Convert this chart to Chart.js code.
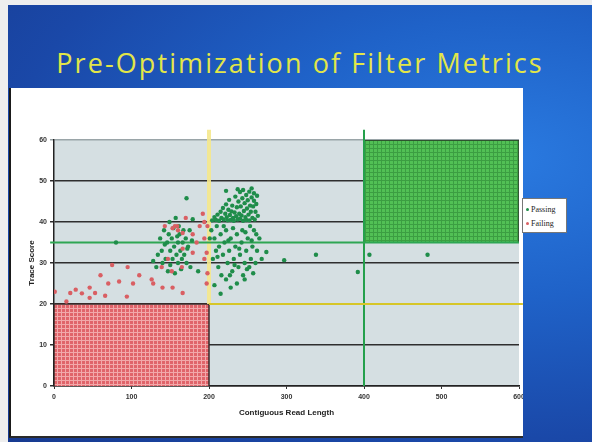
<!DOCTYPE html>
<html>
<head>
<meta charset="utf-8">
<script src="https://cdn.jsdelivr.net/npm/chart.js@4.4.0/dist/chart.umd.min.js"></script>
<style>
html, body { margin: 0; padding: 0; }
body { width: 592px; height: 442px; position: relative; overflow: hidden; background: #eeeeee; }
#slide {
    position: absolute; left: 8px; top: 5px; width: 584px; height: 437px;
    background: radial-gradient(ellipse at 85% 35%, #2a7ae0 0%, #1f62c8 35%, #1a48a8 70%, #173a90 100%);
}
#title {
    position: absolute; left: 8px; top: 44px; width: 584px; text-align: center;
    color: #e2e648; font: 27px 'Open Sans', sans-serif; white-space: nowrap; letter-spacing: 2.1px;
}
#panel {
    position: absolute; left: 9px; top: 88px; width: 514px; height: 350px; background: #ffffff;
    border-left: 2px solid #1a1a1a; border-bottom: 2px solid #2a2a2a; box-sizing: border-box;
}
#myChart { position: absolute; left: -2px; top: 0; }
#legend {
    position: absolute; left: 522px; top: 198px; width: 45px; height: 35px; box-sizing: border-box;
    background: #fff; border: 1px solid #777; font: 8px 'Liberation Serif', serif; color: #222;
    padding: 4px 0 0 3px; line-height: 14px;
}
#legend span { display: inline-block; width: 3px; height: 3px; margin: 0 2px 1px 0; border-radius: 50%; }
</style>
</head>
<body>
<div id="slide"></div>
<div id="title">Pre-Optimization of Filter Metrics</div>
<div id="panel"><canvas id="myChart" width="514" height="348"></canvas></div>
<div id="legend"></div>
<script>
// axis setup
var xTicks = [0, 100, 200, 300, 400, 500, 600];
var yTicks = [0, 10, 20, 30, 40, 50, 60];
var xTitle = 'Contiguous Read Length';
var yTitle = 'Trace Score';
var seriesNames = ['Passing', 'Failing'];

// thresholds used in the chart
var failBox = [[0, 0], [0, 20], [200, 20], [200, 0]];
var passBox = [[400, 35], [400, 60], [600, 60], [600, 35]];
var greenHLine = [[-5, 35], [600, 35]];
var greenVLine = [[400, 0], [400, 62.5]];
var yellowVLine = [[200, 20], [200, 62.5]];
var yellowHLine = [[200, 20], [605, 20]];

var passingPoints = [
    [128,30.5],[132,29],[134,32],[137,36],[139,33],[140,30],[142,38],[143,34.5],[144,31],[146,35],
    [147,28],[148,37],[149,40],[150,33],[150,29.5],[152,36],[153,31],[154,38.5],[155,34],[156,27.5],
    [157,41],[158,32],[159,36.5],[160,35],[160,30],[161,39],[162,37],[163,33],[164,28.5],[165,31],
    [166,35],[167,38],[168,32],[170,36],[171,30],[172,33.5],[173,34],[175,38],[176,29],[178,35.5],
    [80,35],[171,45.8],[179,40.7],[207,24.6],[274,32.7],[297,30.7],[338,32],[392,27.8],[407,32],[482,32],
    [215,22.5],[186,28],[228,24],
    [201,36],[203,38],[205,31],[207,36],[209,33],[210,39],[212,29],[213,34],[215,37],[216,27],
    [218,32],[219,39],[220,35],[222,38],[222,26],[224,30],[226,33],[227,27],[228,36],[230,28],
    [231,38.5],[232,31],[234,34],[236,37],[236,25],[238,29],[239,33.5],[240,32],[242,35],[243,38],
    [244,27],[246,30],[246,26],[248,33],[249,28.5],[250,36],[252,29],[253,39],[254,31],[256,34],
    [257,27.5],[258,38],[260,30],[261,37],[262,33],[265,36],[268,31],[211,31.5],[225,35.5],[233,29.5],
    [247,37.5],[255,35.5],
    [204,40.4],[207,41.2],[209,40.5],[211,41.8],[213,40.3],[215,42.5],[216,41],[218,43.4],[219,40.6],[221,42],
    [222,44.3],[223,41.2],[224,40.4],[225,43],[226,45.4],[227,41.7],[228,40.5],[229,42.6],[230,44],[231,41],
    [232,40.3],[233,42.3],[234,46.2],[235,41.4],[236,43.6],[237,40.6],[238,45],[239,42],[240,47.3],[240,40.8],
    [241,43.8],[242,41.6],[243,45.8],[244,40.3],[244,47.8],[245,42.7],[246,44.6],[247,41.2],[248,46.6],[248,40.5],
    [249,43.3],[250,45.3],[251,41.8],[252,47.4],[252,40.4],[253,44],[254,42.5],[255,46],[255,48.2],[256,41],
    [257,43.8],[258,45.2],[258,47],[259,40.6],[260,42.5],[261,44.4],[262,46.4],[263,41.5],[222,47.6],[237,48]
];
var failingPoints = [
    [1,23],[16,20.6],[21,22.7],[28,23.5],[36,22.6],[46,24],[46,21.5],[53,22.7],[60,27],[66,22],
    [70,25],[75,29.5],[84,25.5],[94,21.8],[95,29],[102,25],[110,27],[126,26],[128,25],[140,24],
    [153,24],[166,22.7],[139,29],[147,31],[152,28],[165,29],[143,39],[156,39],[159,39],[153,38.5],
    [166,37.3],[160,38],[166,33.5],[179,37],[179,32.5],[188,39],[192,42],[194,31],[197,32.5],[197,25],
    [198,27.5],[198,39],[184,35],[170,41],[194,40],[194,36]
];

function toXY(arr) {
    return arr.map(function(p) { return {x: p[0], y: p[1]}; });
}

function makePattern(base, line) {
    var c = document.createElement('canvas');
    c.width = 4; c.height = 4;
    var g = c.getContext('2d');
    g.fillStyle = base; g.fillRect(0, 0, 4, 4);
    g.fillStyle = line; g.fillRect(0, 0, 1, 4); g.fillRect(0, 0, 4, 1);
    return g.createPattern(c, 'repeat');
}

var plotBg = {
    id: 'plotBg',
    beforeDraw: function(chart) {
        var a = chart.chartArea, ctx = chart.ctx;
        ctx.save();
        ctx.fillStyle = '#d5dfe2';
        ctx.fillRect(a.left, a.top, a.right - a.left, a.bottom - a.top);
        ctx.restore();
    }
};

function lineSet(pts, color, width, order) {
    return {
        type: 'line', data: toXY(pts), borderColor: color, borderWidth: width,
        pointRadius: 0, fill: false, clip: false, order: order, tension: 0
    };
}

var tickFont = {family: 'Liberation Sans', size: 7, weight: 'bold'};
var titleFont = {family: 'Liberation Sans', size: 8, weight: 'bold'};

var ctx = document.getElementById('myChart').getContext('2d');
var chart = new Chart(ctx, {
    type: 'scatter',
    data: {
        datasets: [
            {
                label: seriesNames[0], data: toXY(passingPoints), backgroundColor: '#1f8d4a',
                borderWidth: 0, pointRadius: 2.2, order: 1
            },
            {
                label: seriesNames[1], data: toXY(failingPoints), backgroundColor: '#d95f63',
                borderWidth: 0, pointRadius: 2.2, order: 0
            },
            {
                type: 'line', data: toXY(failBox), borderColor: '#3a2a2a', borderWidth: 1.5,
                backgroundColor: makePattern('#e0646a', '#f2a8aa'), fill: 'origin',
                pointRadius: 0, order: 10, tension: 0
            },
            {
                type: 'line', data: toXY(passBox), borderColor: '#2a3a2a', borderWidth: 1.5,
                backgroundColor: makePattern('#52c055', '#3c9e42'), fill: {value: 35},
                pointRadius: 0, order: 10, tension: 0
            },
            lineSet(yellowVLine, 'rgba(245,232,140,0.9)', 4, 6),
            lineSet(yellowHLine, '#d6c628', 2, 5),
            lineSet(greenHLine, '#2ea653', 2, 5),
            lineSet(greenVLine, '#25a04c', 2, 5)
        ]
    },
    options: {
        responsive: false,
        animation: false,
        layout: {padding: {left: 0, right: 3, top: 52, bottom: 12}},
        plugins: {legend: {display: false}, tooltip: {enabled: false}},
        scales: {
            x: {
                type: 'linear', min: 0, max: 600,
                afterBuildTicks: function(s) { s.ticks = xTicks.map(function(v) { return {value: v}; }); },
                afterFit: function(s) { s.height = 38; s.paddingLeft = 0; s.paddingRight = 0; },
                ticks: {font: tickFont, color: '#333', padding: 4, maxRotation: 0},
                grid: {drawOnChartArea: false, tickLength: 3, color: '#333'},
                border: {color: '#222', width: 1.5},
                title: {display: true, text: xTitle, font: titleFont, color: '#222', padding: {top: 0, bottom: 6}}
            },
            y: {
                min: 0, max: 60,
                afterBuildTicks: function(s) { s.ticks = yTicks.map(function(v) { return {value: v}; }); },
                afterFit: function(s) { s.width = 45; },
                ticks: {font: tickFont, color: '#333', padding: 3},
                grid: {
                    tickLength: 4, lineWidth: 1.5,
                    color: function(c) { return c.tick && c.tick.value === 60 ? '#9aa5a8' : '#2e2e2e'; }
                },
                border: {color: '#222', width: 1.5},
                title: {display: true, text: yTitle, font: titleFont, color: '#222', padding: {top: 18, bottom: 0}}
            }
        }
    },
    plugins: [plotBg]
});

// legend built from the chart's series
var legendHtml = '';
chart.data.datasets.slice(0, 2).forEach(function(ds) {
    legendHtml += '<div><span style="background:' + ds.backgroundColor + '"></span>' + ds.label + '</div>';
});
document.getElementById('legend').innerHTML = legendHtml;
</script>
</body>
</html>
